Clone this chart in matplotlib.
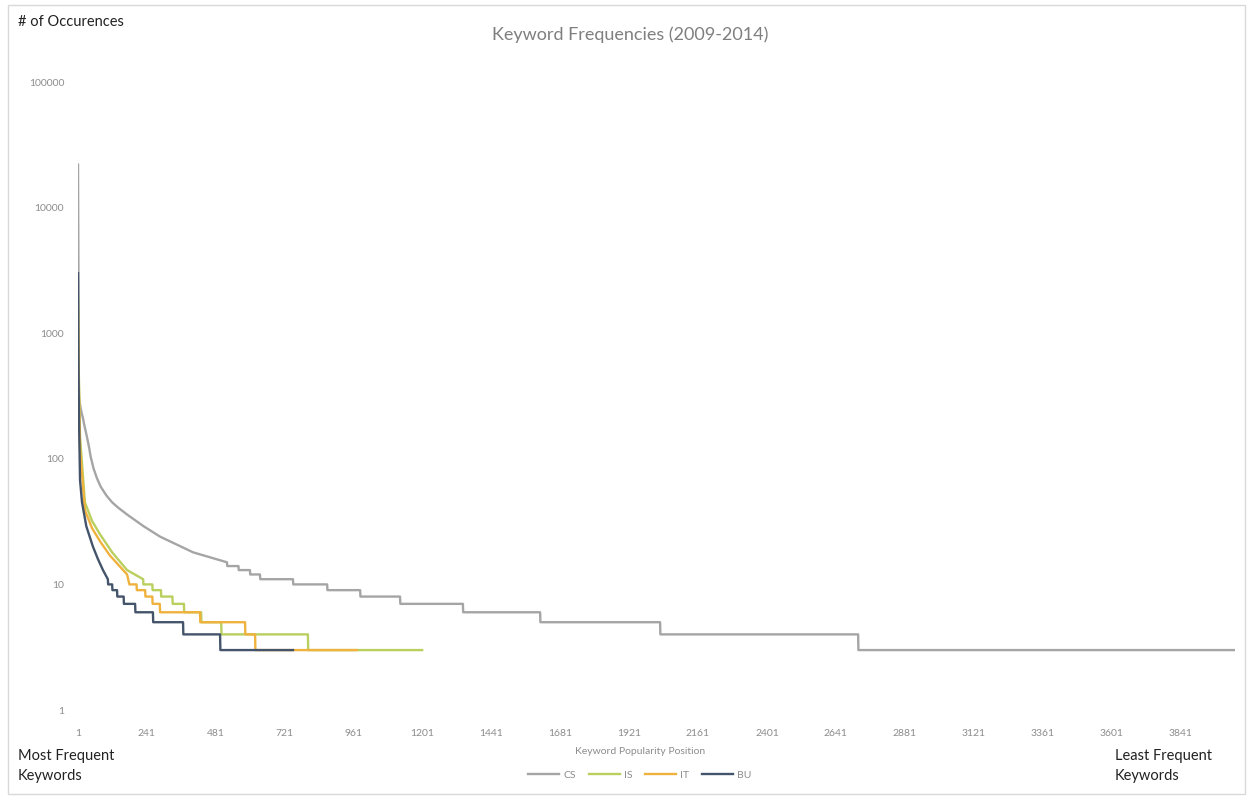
import matplotlib
matplotlib.use("Agg")
import matplotlib.pyplot as plt
from matplotlib.patches import Rectangle

plt.rcParams['font.family'] = ['Lato', 'DejaVu Sans']

# ---- data (rank of keyword, number of occurrences) ----
cs_rank = [1, 2, 3, 4, 6, 10, 14, 18, 22, 32, 40, 45, 55, 67, 80, 100, 120, 140, 172,
           230, 287, 402, 520,
           521, 560, 561, 600, 601, 635, 636, 750, 751, 869, 870, 984,
           985, 1123, 1124, 1342, 1343, 1611, 1612, 2029, 2030, 2719, 2720, 4032]
cs_count = [22000, 6000, 1500, 320, 290, 255, 230, 212, 190, 150, 122, 104, 84, 70, 60, 51, 45, 41, 36,
            29, 24, 18, 15,
            14, 14, 13, 13, 12, 12, 11, 11, 10, 10, 9, 9,
            8, 8, 7, 7, 6, 6, 5, 5, 4, 4, 3, 3]

is_rank = [1, 3, 8, 25, 50, 78, 120, 172, 228, 229, 260, 261, 290, 291, 330, 331, 370,
           371, 430, 431, 500, 501, 802, 803, 1200]
is_count = [2000, 600, 150, 45, 32, 25, 18, 13, 11, 10, 10, 9, 9, 8, 8, 7, 7,
            6, 6, 5, 5, 4, 4, 3, 3]

it_rank = [1, 3, 8, 25, 50, 78, 112, 172, 180, 205, 206, 235, 236, 260, 261, 286,
           287, 426, 427, 583, 584, 618, 619, 972]
it_count = [1500, 500, 120, 39, 28, 22, 17, 12, 10, 10, 9, 9, 8, 8, 7, 7,
            6, 6, 5, 5, 4, 4, 3, 3]

bu_rank = [1, 2, 4, 8, 15, 30, 53, 70, 88, 105, 106, 120, 121, 137, 138, 160, 161, 200,
           201, 262, 263, 367, 368, 496, 497, 750]
bu_count = [3000, 900, 250, 68, 45, 29, 20, 16, 13, 11, 10, 10, 9, 9, 8, 8, 7, 7,
            6, 6, 5, 5, 4, 4, 3, 3]

series_names = ['CS', 'IS', 'IT', 'BU']
series_colors = ['#A5A5A5', '#B9CF5E', '#F0B23E', '#44546A']

xtick_pos = [1 + 240 * k for k in range(17)]
xtick_labels = [str(v) for v in xtick_pos]
ytick_pos = [1, 10, 100, 1000, 10000, 100000]
ytick_labels = ['1', '10', '100', '1000', '10000', '100000']

# ---- figure ----
W, H = 1250, 799
fig = plt.figure(figsize=(W / 100, H / 100), dpi=100)
fig.patches.append(Rectangle((0.006, 0.006), 0.99, 0.988, transform=fig.transFigure,
                             fill=False, edgecolor='#d9d9d9', lw=1))

ax = fig.add_axes([78 / W, 1 - 710 / H, (1235 - 78) / W, (710 - 82) / H])
ax.set_yscale('log')

data = [(cs_rank, cs_count), (is_rank, is_count), (it_rank, it_count), (bu_rank, bu_count)]
for (r, c), name, col in zip(data, series_names, series_colors):
    ax.plot(r, c, color=col, lw=1.7, label=name, solid_joinstyle='round')

ax.set_xlim(1, 4032)
ax.set_ylim(1, 100000)
ax.set_xticks(xtick_pos)
ax.set_xticklabels(xtick_labels)
ax.set_yticks(ytick_pos)
ax.set_yticklabels(ytick_labels)
ax.minorticks_off()
ax.tick_params(axis='both', length=0, labelsize=7.5, colors='#8c8c8c', pad=10)
ax.tick_params(axis='x', pad=14)
for s in ax.spines.values():
    s.set_visible(False)

fig.text(630 / W, 1 - 35 / H, 'Keyword Frequencies (2009-2014)', ha='center', va='center',
         fontsize=13, color='#7f7f7f')
fig.text(18 / W, 1 - 22 / H, '# of Occurences', ha='left', va='center', fontsize=10.5, color='#222222')
fig.text(640 / W, 1 - 752 / H, 'Keyword Popularity Position', ha='center', va='center',
         fontsize=7.5, color='#8c8c8c')
fig.text(18 / W, 1 - 766 / H, 'Most Frequent\nKeywords', ha='left', va='center', fontsize=10.5,
         color='#222222', linespacing=1.55)
fig.text(1115 / W, 1 - 766 / H, 'Least Frequent\nKeywords', ha='left', va='center', fontsize=10.5,
         color='#222222', linespacing=1.55)

leg = fig.legend(loc='center', bbox_to_anchor=(640 / W, 1 - 775 / H), ncol=4, frameon=False,
                 fontsize=7.5, handlelength=3, columnspacing=1.2, handletextpad=0.4)
for t in leg.get_texts():
    t.set_color('#8c8c8c')

fig.savefig('out.png', dpi=100)
